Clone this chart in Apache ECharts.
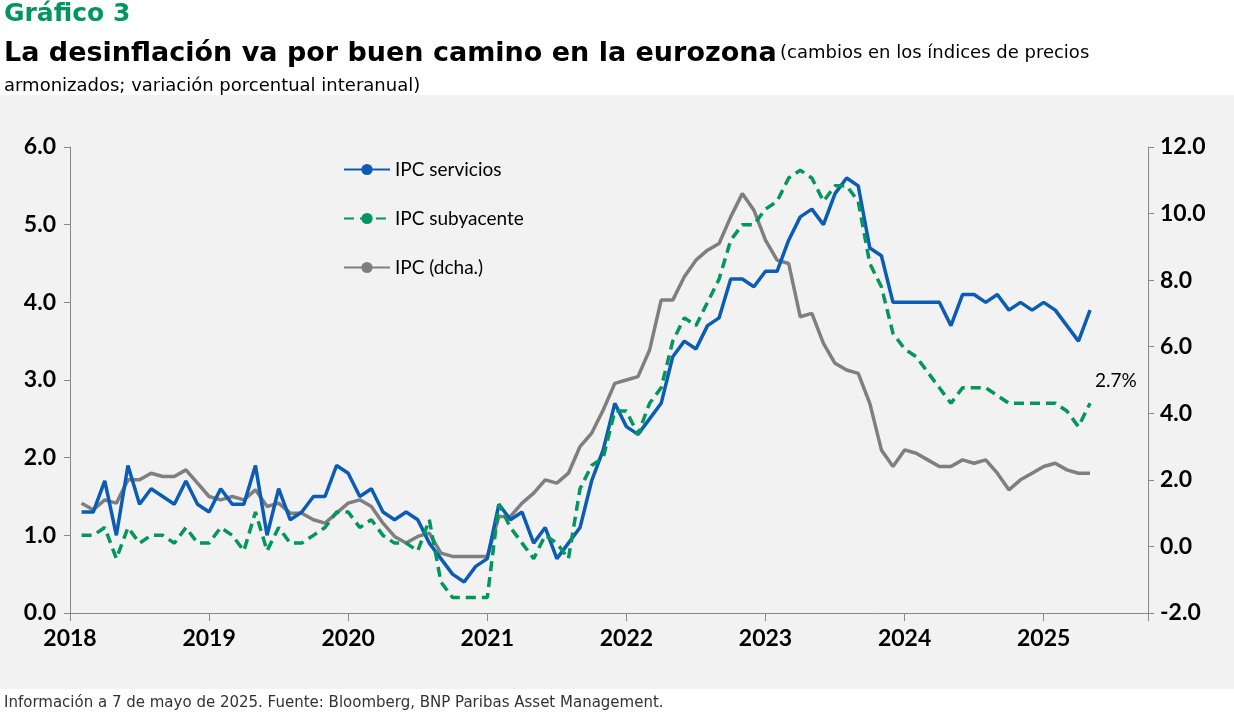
<!DOCTYPE html>
<html><head><meta charset="utf-8">
<script src="https://cdn.jsdelivr.net/npm/echarts@6/dist/echarts.min.js"></script>
<style>html,body{margin:0;padding:0;background:#fff}#c{width:1234px;height:717px}</style>
</head><body><div id="c"></div>
<script>
const startYear = 2018;
const yearTicks = ['2018','2019','2020','2021','2022','2023','2024','2025'];
const servicios = [1.3,1.3,1.7,1.0,1.9,1.4,1.6,1.5,1.4,1.7,1.4,1.3,
 1.6,1.4,1.4,1.9,1.0,1.6,1.2,1.3,1.5,1.5,1.9,1.8,
 1.5,1.6,1.3,1.2,1.3,1.2,0.9,0.7,0.5,0.4,0.6,0.7,
 1.4,1.2,1.3,0.9,1.1,0.7,0.9,1.1,1.7,2.1,2.7,2.4,
 2.3,2.5,2.7,3.3,3.5,3.4,3.7,3.8,4.3,4.3,4.2,4.4,
 4.4,4.8,5.1,5.2,5.0,5.4,5.6,5.5,4.7,4.6,4.0,4.0,
 4.0,4.0,4.0,3.7,4.1,4.1,4.0,4.1,3.9,4.0,3.9,4.0,
 3.9,3.7,3.5,3.9];
const subyacente = [1.0,1.0,1.1,0.7,1.1,0.9,1.0,1.0,0.9,1.1,0.9,0.9,
 1.1,1.0,0.8,1.3,0.8,1.1,0.9,0.9,1.0,1.1,1.3,1.3,
 1.1,1.2,1.0,0.9,0.9,0.8,1.2,0.4,0.2,0.2,0.2,0.2,
 1.4,1.1,0.9,0.7,1.0,0.9,0.7,1.6,1.9,2.0,2.6,2.6,
 2.3,2.7,2.9,3.5,3.8,3.7,4.0,4.3,4.8,5.0,5.0,5.2,
 5.3,5.6,5.7,5.6,5.3,5.5,5.5,5.3,4.5,4.2,3.6,3.4,
 3.3,3.1,2.9,2.7,2.9,2.9,2.9,2.8,2.7,2.7,2.7,2.7,
 2.7,2.6,2.4,2.7];
const ipc = [1.3,1.1,1.4,1.3,2.0,2.0,2.2,2.1,2.1,2.3,1.9,1.5,
 1.4,1.5,1.4,1.7,1.2,1.3,1.0,1.0,0.8,0.7,1.0,1.3,
 1.4,1.2,0.7,0.3,0.1,0.3,0.4,-0.2,-0.3,-0.3,-0.3,-0.3,
 0.9,0.9,1.3,1.6,2.0,1.9,2.2,3.0,3.4,4.1,4.9,5.0,
 5.1,5.9,7.4,7.4,8.1,8.6,8.9,9.1,9.9,10.6,10.1,9.2,
 8.6,8.5,6.9,7.0,6.1,5.5,5.3,5.2,4.3,2.9,2.4,2.9,
 2.8,2.6,2.4,2.4,2.6,2.5,2.6,2.2,1.7,2.0,2.2,2.4,
 2.5,2.3,2.2,2.2];
const pts = a => a.map((v,i)=>[startYear+(i+1)/12, v]);
const F = 'Lato, "Noto Sans", sans-serif';
const D = '"DejaVu Sans", sans-serif';
const chart = echarts.init(document.getElementById('c'));
chart.setOption({
  animation:false,
  backgroundColor:'#fff',
  graphic:[
    {type:'rect',shape:{x:0,y:95,width:1234,height:594},style:{fill:'#f2f2f2'},z:-10},
    {type:'text',left:4,top:2,style:{text:'Gráfico 3',font:'bold 25px '+D,fill:'#00965e'}},
    {type:'text',left:4,top:40,style:{rich:{a:{font:'bold 27px '+D,fill:'#000'},b:{font:'18px '+D,fill:'#000'}},text:'{a|La desinflación va por buen camino en la eurozona} {b|(cambios en los índices de precios}'}},
    {type:'text',left:4,top:77,style:{text:'armonizados; variación porcentual interanual)',font:'18px '+D,fill:'#000'}},
    {type:'text',left:4,top:696,style:{text:'Información a 7 de mayo de 2025. Fuente: Bloomberg, BNP Paribas Asset Management.',font:'15px '+D,fill:'#333'}}
  ],
  grid:{left:70,right:86,top:147,bottom:104},
  legend:{orient:'vertical',left:338,top:155,itemGap:30,itemWidth:46,itemHeight:14,
    textStyle:{fontSize:19,fontFamily:F,color:'#000'},
    data:['IPC servicios','IPC subyacente','IPC (dcha.)']},
  xAxis:{type:'value',min:2018,max:2025.75,interval:1,
    axisLine:{lineStyle:{color:'#888'}},axisTick:{show:true,length:8,lineStyle:{color:'#888'}},
    splitLine:{show:false},
    axisLabel:{fontSize:23,fontFamily:F,fontWeight:'bold',color:'#000',margin:14,
      formatter:v=>yearTicks.includes(String(v))?String(v):''}},
  yAxis:[
    {type:'value',min:0,max:6,interval:1,position:'left',
     axisLine:{show:true,lineStyle:{color:'#888'}},axisTick:{show:true,inside:false,length:6,lineStyle:{color:'#888'}},
     splitLine:{show:false},axisLabel:{fontSize:23,fontFamily:F,fontWeight:'bold',color:'#000',formatter:v=>v.toFixed(1),margin:14}},
    {type:'value',min:-2,max:12,interval:2,position:'right',
     axisLine:{show:true,lineStyle:{color:'#888'}},axisTick:{show:true,length:6,lineStyle:{color:'#888'}},
     splitLine:{show:false},axisLabel:{fontSize:23,fontFamily:F,fontWeight:'bold',color:'#000',formatter:v=>v.toFixed(1),margin:12}}
  ],
  series:[
    {name:'IPC servicios',type:'line',yAxisIndex:0,data:pts(servicios),symbol:'none',
     lineStyle:{color:'#0a5cb5',width:3.5},itemStyle:{color:'#0a5cb5'},z:3},
    {name:'IPC subyacente',type:'line',yAxisIndex:0,data:pts(subyacente),symbol:'none',
     lineStyle:{color:'#00965e',width:3.5,type:[10,6]},itemStyle:{color:'#00965e'},z:4,
     markPoint:{symbol:'circle',symbolSize:0,data:[{coord:[startYear+subyacente.length/12,subyacente[subyacente.length-1]],
       label:{show:true,formatter:'2.7%',position:'right',offset:[0,-22],fontSize:19,fontFamily:F,color:'#000'}}]}},
    {name:'IPC (dcha.)',type:'line',yAxisIndex:1,data:pts(ipc),symbol:'none',
     lineStyle:{color:'#7f7f7f',width:3.5},itemStyle:{color:'#7f7f7f'},z:2}
  ]
});
</script></body></html>
